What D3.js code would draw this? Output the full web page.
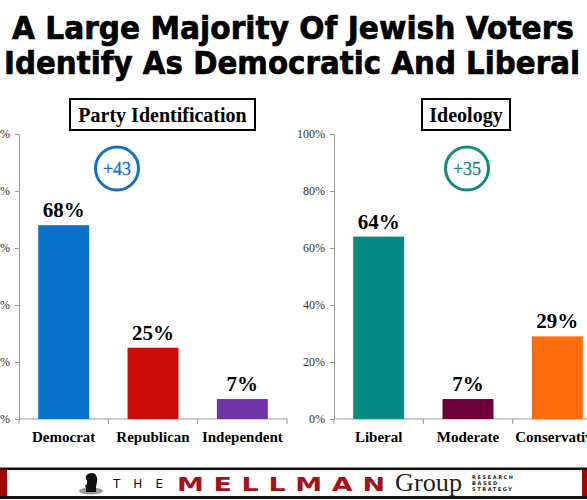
<!DOCTYPE html>
<html>
<head>
<meta charset="utf-8">
<script src="https://cdn.jsdelivr.net/npm/d3@7"></script>
<style>
  html, body { margin: 0; padding: 0; background: #fff; }
  svg { display: block; }
</style>
</head>
<body>
<div id="chart"></div>
<script>
// Party identification panel
const partyCats = ['Democrat', 'Republican', 'Independent'];
const partyVals = [0.68, 0.25, 0.07];
const partyColors = ['#0a72c9', '#cc0a0a', '#7134a6'];

// Ideology panel
const ideoCats = ['Liberal', 'Moderate', 'Conservative'];
const ideoVals = [0.64, 0.07, 0.29];
const ideoColors = ['#058a83', '#6d0037', '#ff6c0c'];

const yTicks = [0, 0.2, 0.4, 0.6, 0.8, 1.0];

const width = 587;
const height = 500;
const serif = '"Liberation Serif", "Times New Roman", serif';

const svg = d3.select('#chart').append('svg')
  .attr('width', width)
  .attr('height', height);

// Title
const titleLines = [
  { text: 'A Large Majority Of Jewish Voters', x0: 12, x1: 574, y: 39 },
  { text: 'Identify As Democratic And Liberal', x0: 4, x1: 580, y: 74 }
];
titleLines.forEach(t => {
  svg.append('text')
    .attr('x', t.x0)
    .attr('y', t.y)
    .attr('textLength', t.x1 - t.x0)
    .attr('lengthAdjust', 'spacingAndGlyphs')
    .attr('font-family', '"DejaVu Sans", Verdana, sans-serif')
    .attr('font-weight', 'bold')
    .attr('font-size', 32)
    .attr('fill', '#000')
    .attr('stroke', '#000')
    .attr('stroke-width', 0.7)
    .text(t.text);
});

const y = d3.scaleLinear().domain([0, 1]).range([419, 134]);

function panel(opts) {
  const { cats, vals, colors, x0, x1, title, boxX0, boxX1, diff, diffColor, cx } = opts;
  const g = svg.append('g');

  const x = d3.scaleBand()
    .domain(cats)
    .range([x0, x1])
    .paddingInner(0.43)
    .paddingOuter(0.215);

  // y axis
  const yAxis = g.append('g')
    .attr('transform', `translate(${x0},0)`)
    .call(d3.axisLeft(y).tickValues(yTicks).tickFormat(d3.format('.0%')).tickSize(4).tickSizeOuter(0));
  yAxis.select('.domain').attr('stroke', '#9a9a9a');
  yAxis.selectAll('.tick line').attr('stroke', '#9a9a9a');
  yAxis.selectAll('.tick text')
    .attr('x', -9)
    .attr('font-family', serif)
    .attr('font-size', 12)
    .attr('fill', '#333');

  // x axis line with boundary ticks
  g.append('line')
    .attr('x1', x0).attr('x2', x1)
    .attr('y1', y(0)).attr('y2', y(0))
    .attr('stroke', '#9a9a9a');
  d3.range(cats.length + 1).forEach(i => {
    const bx = x0 + i * x.step();
    g.append('line')
      .attr('x1', bx).attr('x2', bx)
      .attr('y1', y(0)).attr('y2', y(0) + 5)
      .attr('stroke', '#9a9a9a');
  });

  // bars
  g.selectAll('rect.bar')
    .data(cats)
    .join('rect')
    .attr('class', 'bar')
    .attr('x', d => x(d))
    .attr('width', x.bandwidth())
    .attr('y', (d, i) => y(vals[i]))
    .attr('height', (d, i) => y(0) - y(vals[i]))
    .attr('fill', (d, i) => colors[i]);

  // value labels
  g.selectAll('text.val')
    .data(cats)
    .join('text')
    .attr('class', 'val')
    .attr('x', d => x(d) + x.bandwidth() / 2)
    .attr('y', (d, i) => y(vals[i]) - 8)
    .attr('text-anchor', 'middle')
    .attr('font-family', serif)
    .attr('font-weight', 'bold')
    .attr('font-size', 21)
    .attr('fill', '#000')
    .text((d, i) => Math.round(vals[i] * 100) + '%');

  // category labels
  g.selectAll('text.cat')
    .data(cats)
    .join('text')
    .attr('class', 'cat')
    .attr('x', d => x(d) + x.bandwidth() / 2)
    .attr('y', 442)
    .attr('text-anchor', 'middle')
    .attr('font-family', serif)
    .attr('font-weight', 'bold')
    .attr('font-size', 15)
    .attr('fill', '#000')
    .text(d => d);

  // boxed title
  g.append('rect')
    .attr('x', boxX0).attr('y', 99)
    .attr('width', boxX1 - boxX0).attr('height', 31)
    .attr('fill', '#fff')
    .attr('stroke', '#000')
    .attr('stroke-width', 2);
  g.append('text')
    .attr('x', (boxX0 + boxX1) / 2)
    .attr('y', 122)
    .attr('text-anchor', 'middle')
    .attr('font-family', serif)
    .attr('font-weight', 'bold')
    .attr('font-size', 20)
    .text(title);

  // gap circle
  g.append('circle')
    .attr('cx', cx).attr('cy', 168.5)
    .attr('r', 21.5)
    .attr('fill', 'none')
    .attr('stroke', diffColor)
    .attr('stroke-width', 3);
  g.append('text')
    .attr('x', cx).attr('y', 175)
    .attr('text-anchor', 'middle')
    .attr('font-family', serif)
    .attr('font-size', 18)
    .attr('fill', diffColor)
    .attr('stroke', diffColor)
    .attr('stroke-width', 0.3)
    .text(diff);
}

panel({
  cats: partyCats, vals: partyVals, colors: partyColors,
  x0: 19, x1: 287, title: 'Party Identification', boxX0: 70, boxX1: 255,
  diff: '+43', diffColor: '#1470c4', cx: 117
});
panel({
  cats: ideoCats, vals: ideoVals, colors: ideoColors,
  x0: 334, x1: 602, title: 'Ideology', boxX0: 422, boxX1: 510,
  diff: '+35', diffColor: '#128a80', cx: 467
});

// Footer banner
const f = svg.append('g');
f.append('rect').attr('x', 0).attr('y', 470).attr('width', width).attr('height', 27).attr('fill', '#fff')
  .attr('stroke', '#bbb').attr('stroke-width', 0.5);
f.append('rect').attr('x', 0).attr('y', 467.5).attr('width', width).attr('height', 2.5).attr('fill', '#111');
f.append('rect').attr('x', 0).attr('y', 496).attr('width', width).attr('height', 3).attr('fill', '#111');
f.append('rect').attr('x', 0).attr('y', 470).attr('width', 7).attr('height', 26).attr('fill', '#a80000');
f.append('rect').attr('x', 582).attr('y', 470).attr('width', 5).attr('height', 26).attr('fill', '#a80000');

// knight logo
f.append('ellipse').attr('cx', 91).attr('cy', 491).attr('rx', 12).attr('ry', 3.5).attr('fill', '#999');
f.append('path')
  .attr('d', 'M86,492 L86,488 Q84,486 87,484 Q88,481 86,479 Q85,476 88,474 Q92,472 95,474 Q98,477 97,482 Q96,486 96,488 L96,492 Z')
  .attr('fill', '#111');

f.append('text')
  .attr('x', 113).attr('y', 488)
  .attr('textLength', 50).attr('lengthAdjust', 'spacing')
  .attr('font-family', '"DejaVu Sans", sans-serif')
  .attr('font-size', 12)
  .attr('fill', '#111')
  .text('THE');
f.append('g')
  .attr('transform', 'translate(177,491) scale(1.35,1)')
  .append('text')
  .attr('x', 0).attr('y', 0)
  .attr('textLength', 208 / 1.35).attr('lengthAdjust', 'spacing')
  .attr('font-family', '"DejaVu Sans", sans-serif')
  .attr('font-weight', 'bold')
  .attr('font-size', 20)
  .attr('fill', '#a3121a')
  .text('MELLMAN');
f.append('text')
  .attr('x', 395).attr('y', 491)
  .attr('textLength', 67).attr('lengthAdjust', 'spacingAndGlyphs')
  .attr('font-family', serif)
  .attr('font-size', 25)
  .attr('fill', '#222')
  .text('Group');
['RESEARCH', 'BASED', 'STRATEGY'].forEach((w, i) => {
  f.append('text')
    .attr('x', 472).attr('y', 479 + i * 6)
    .attr('font-family', '"DejaVu Sans", sans-serif')
    .attr('font-weight', 'bold')
    .attr('font-size', 5)
    .attr('letter-spacing', 1.6)
    .attr('fill', '#222')
    .text(w);
});
</script>
</body>
</html>
